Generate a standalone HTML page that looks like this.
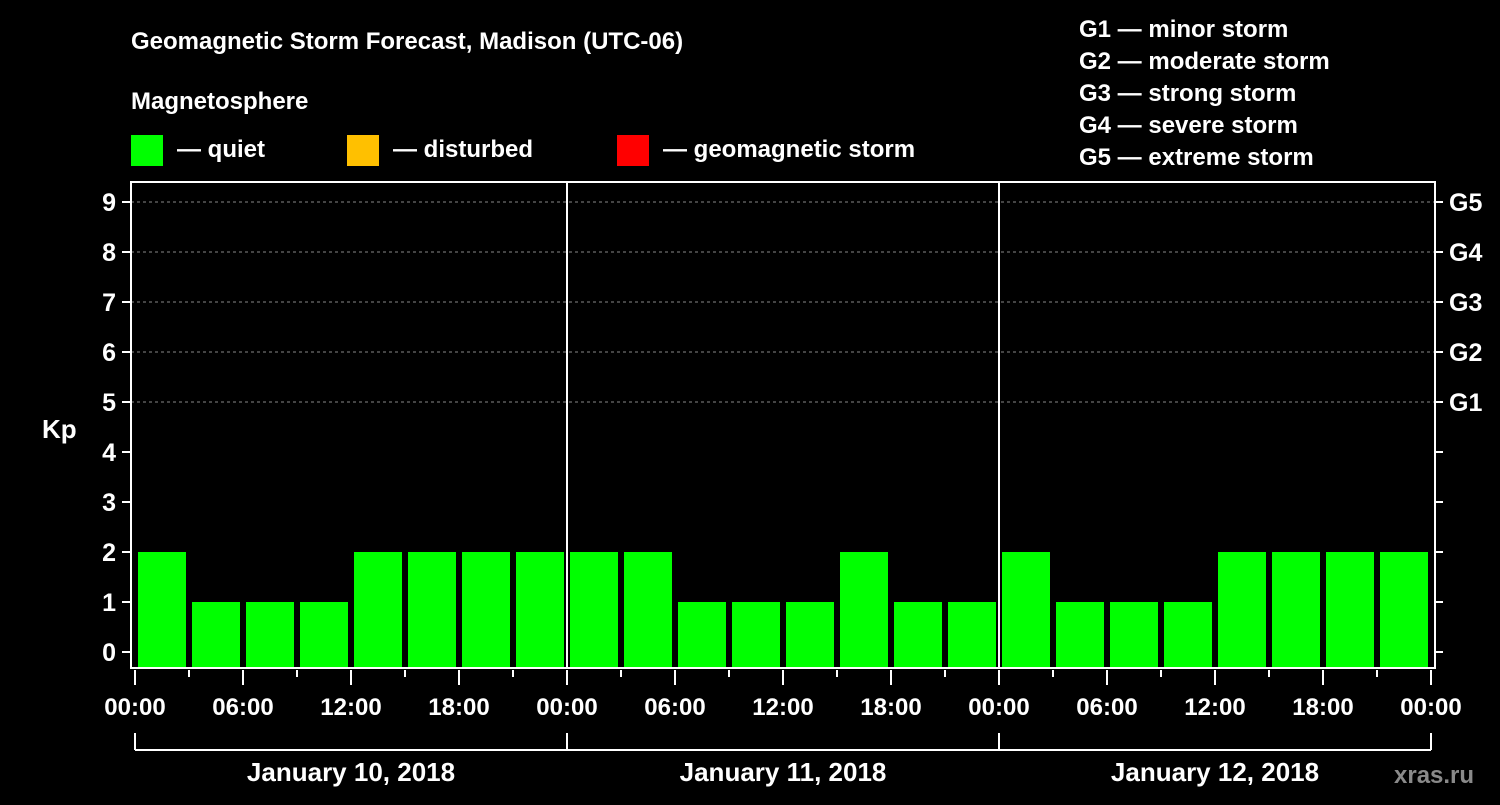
<!DOCTYPE html>
<html><head><meta charset="utf-8"><style>
body{margin:0;background:#000;width:1500px;height:800px;overflow:hidden}
svg text{font-family:"Liberation Sans",Arial,sans-serif;font-weight:bold;fill:#fff}
</style></head><body>
<svg id="c" width="1500" height="800">
<text x="131" y="49" font-size="24">Geomagnetic Storm Forecast, Madison (UTC-06)</text>
<text x="131" y="109" font-size="24">Magnetosphere</text>
<g><rect x="131" y="135" width="32" height="31" fill="#00ff00"/><text x="177" y="157" font-size="24">— quiet</text></g>
<g><rect x="347" y="135" width="32" height="31" fill="#ffc000"/><text x="393" y="157" font-size="24">— disturbed</text></g>
<g><rect x="617" y="135" width="32" height="31" fill="#ff0000"/><text x="663" y="157" font-size="24">— geomagnetic storm</text></g>
<g font-size="24">
<text x="1079" y="37">G1 — minor storm</text>
<text x="1079" y="69">G2 — moderate storm</text>
<text x="1079" y="101">G3 — strong storm</text>
<text x="1079" y="133">G4 — severe storm</text>
<text x="1079" y="165">G5 — extreme storm</text>
</g>
<text x="42" y="438" font-size="26">Kp</text>
<text x="1394" y="783" font-size="24" fill="#777" style="fill:#8a8a8a">xras.ru</text>
<g id="plot"></g>
</svg>
<script>
const values=[2,1,1,1,2,2,2,2, 2,2,1,1,1,2,1,1, 2,1,1,1,2,2,2,2];
const days=["January 10, 2018","January 11, 2018","January 12, 2018"];
const hourLabels=["00:00","06:00","12:00","18:00"];
const gLabels=["G1","G2","G3","G4","G5"];
const NS="http://www.w3.org/2000/svg";
const g=document.getElementById('plot');
const L=131,R=1435,T=182,B=668,X0=135,DAYW=432;
const y=v=>652-v*50;
const x=h=>X0+h*(DAYW/24);
function mk(t,a,txt){const e=document.createElementNS(NS,t);for(const k in a)e.setAttribute(k,a[k]);if(txt!=null)e.textContent=txt;g.appendChild(e);return e;}
// grid
for(let v=5;v<=9;v++){const e=mk('line',{x1:L,x2:R,y1:y(v),y2:y(v),stroke:'#888','stroke-dasharray':'3,3','stroke-width':1});

}
// bars
values.forEach((v,i)=>{const x1=x(i*3)+3,w=x((i+1)*3)-x(i*3)-6;const e=mk('rect',{x:x1,y:y(v),width:w,height:B-y(v),fill:'#00ff00'});

});
// day separators
for(let d=1;d<3;d++){const e=mk('line',{x1:x(d*24),x2:x(d*24),y1:T,y2:B,stroke:'#fff','stroke-width':2});

}
// frame
const f=mk('rect',{x:L,y:T,width:R-L,height:B-T,fill:'none',stroke:'#fff','stroke-width':2});


// y ticks
for(let v=0;v<=9;v++){mk('line',{x1:122,x2:L,y1:y(v),y2:y(v),stroke:'#fff','stroke-width':2});
mk('line',{x1:R,x2:1443,y1:y(v),y2:y(v),stroke:'#fff','stroke-width':2});
const t=mk('text',{x:116,y:y(v)+9,'font-size':25,'text-anchor':'end'},String(v));

}
gLabels.forEach((s,i)=>{const t=mk('text',{x:1449,y:y(5+i)+9,'font-size':25},s);

});
// x ticks
for(let h=0;h<=72;h+=3){const major=h%6===0;mk('line',{x1:x(h),x2:x(h),y1:670,y2:major?685:677,stroke:'#fff','stroke-width':2});}
for(let d=0;d<3;d++){for(let k=0;k<4;k++){const t=mk('text',{x:x(d*24+k*6),y:715,'font-size':24,'text-anchor':'middle'},hourLabels[k]);

}}
const te=mk('text',{x:x(72),y:715,'font-size':24,'text-anchor':'middle'},hourLabels[0]);


// day brackets
mk('line',{x1:x(0),x2:x(72),y1:750,y2:750,stroke:'#fff','stroke-width':2});
for(let d=0;d<=3;d++)mk('line',{x1:x(d*24),x2:x(d*24),y1:733,y2:750,stroke:'#fff','stroke-width':2});
days.forEach((s,d)=>{const t=mk('text',{x:x(d*24+12),y:781,'font-size':26,'text-anchor':'middle'},s);

});
</script>
</body></html>
